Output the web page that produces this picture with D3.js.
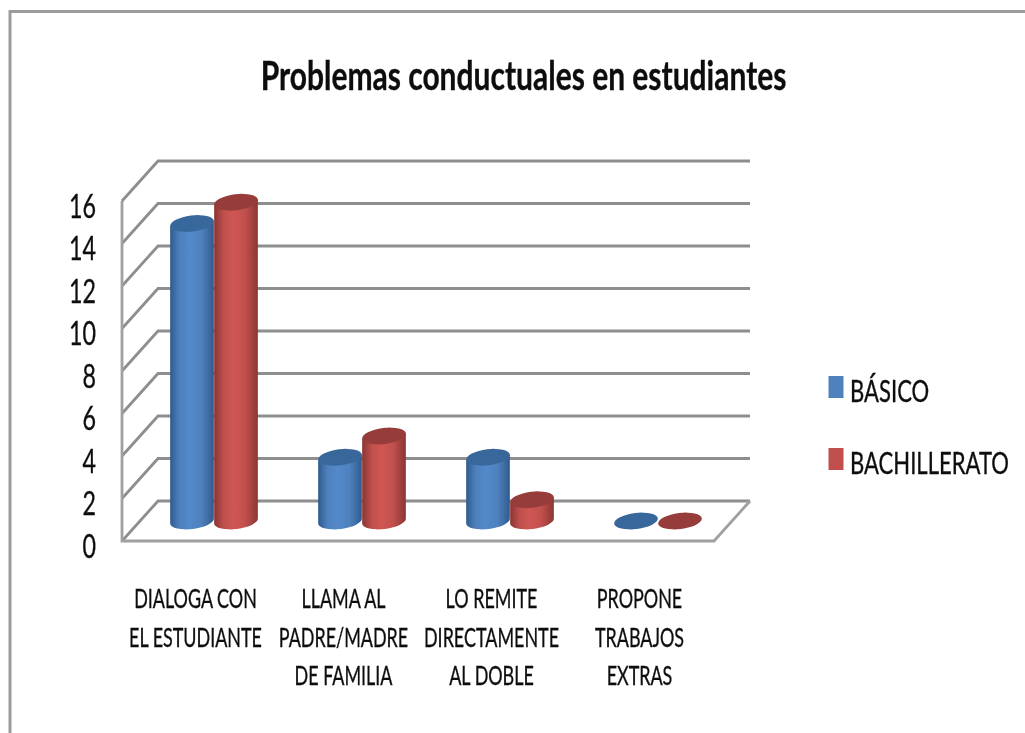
<!DOCTYPE html>
<html><head><meta charset="utf-8">
<script src="https://cdn.jsdelivr.net/npm/d3@7"></script>
<style>html,body{margin:0;padding:0;background:#fff;overflow:hidden}svg{display:block}text{font-family:Lato,"Open Sans",sans-serif;fill:#111;stroke:#111;stroke-width:.35px}</style>
</head><body><svg id="c" width="1025" height="733"></svg>
<script>
const titleText = "Problemas conductuales en estudiantes";
const categories = ["DIALOGA CON","LLAMA AL","LO REMITE","PROPONE"];
const categoryLines = [
  ["DIALOGA CON","EL ESTUDIANTE"],
  ["LLAMA AL","PADRE/MADRE","DE FAMILIA"],
  ["LO REMITE","DIRECTAMENTE","AL DOBLE"],
  ["PROPONE","TRABAJOS","EXTRAS"]
];
const seriesNames = ["BÁSICO","BACHILLERATO"];
const basico = [14,3,3,0];
const bachillerato = [15,4,1,0];
const tickValues = [0,2,4,6,8,10,12,14,16];

const W=1025,H=733;
const svg=d3.select("#c");
const defs=svg.append("defs");
const blur=defs.append("filter").attr("id","soft").attr("x","-5%").attr("y","-5%").attr("width","110%").attr("height","110%");
blur.append("feGaussianBlur").attr("stdDeviation",0.7);
const colors=[{main:"#4f81bd",dark:"#2f5b8e",top:"#39679b",mid:"#5289ca"},{main:"#c0504d",dark:"#8a3533",top:"#963d3a",mid:"#cf5653"}];
colors.forEach((c,i)=>{
  const g=defs.append("linearGradient").attr("id","cyl"+i).attr("x1",0).attr("x2",1).attr("y1",0).attr("y2",0);
  [[0,c.dark],[.22,c.main],[.45,c.mid],[.72,c.main],[1,c.dark]].forEach(s=>g.append("stop").attr("offset",s[0]).attr("stop-color",s[1]));
});
const root=svg.append("g").attr("filter","url(#soft)");

// frame
const frame=root.append("g").attr("stroke","#9c9c9c").attr("stroke-width",3).attr("fill","none");
frame.append("path").attr("d",`M10,${H}V11.5H${W}`);

// plot geometry
const front={l:122,r:714,b:541,t:201}, depth={x:36,y:-40};
const x=d3.scaleBand().domain(categories).range([front.l,front.r]);
const xSeries=d3.scaleBand().domain(seriesNames).range([-44,44]);
const y=d3.scaleLinear().domain([0,16]).range([front.b,front.t]);

// walls / grid
const grid=root.append("g").attr("fill","none").attr("stroke","#8e8e8e").attr("stroke-width",2.8);
tickValues.forEach(v=>{
  grid.append("path").attr("d",`M${front.l},${y(v)}L${front.l+depth.x},${y(v)+depth.y}H${front.r+depth.x}`);
});
grid.append("path").attr("d",`M${front.l},${y(16)}V${y(0)}H${front.r}L${front.r+depth.x},${y(0)+depth.y}`).attr("stroke","#a0a0a0");

// cylinders
const rx=22, ry=8, tilt=-7;
const unit=y(0)-y(1);
function cylinder(cx,v,i){
  const base=y(0)+depth.y/2, top=base-v*unit;
  const g=root.append("g");
  const c=colors[i];
  if(v>0){
    const dx=rx*Math.cos(tilt*Math.PI/180), dy=rx*Math.sin(tilt*Math.PI/180);
    g.append("path")
      .attr("d",`M${cx-dx},${top-dy}L${cx-dx},${base-dy}A${rx},${ry} ${tilt} 0 0 ${cx+dx},${base+dy}L${cx+dx},${top+dy}Z`)
      .attr("fill",`url(#cyl${i})`);
  }
  g.append("ellipse").attr("cx",cx).attr("cy",top).attr("rx",rx).attr("ry",ry)
    .attr("transform",`rotate(${tilt} ${cx} ${top})`).attr("fill",c.top);
}
categories.forEach((cat,j)=>{
  const cx=x(cat)+x.bandwidth()/2+depth.x/2;
  [basico,bachillerato].forEach((s,i)=>{
    cylinder(cx+xSeries(seriesNames[i])+xSeries.bandwidth()/2,s[j],i);
  });
});

// text fitting: condensed look by horizontal scaling
function place(sel,px,py,sx,anchor){
  sel.attr("text-anchor",anchor).attr("transform",`translate(${px},${py}) scale(${sx},1)`);
}
function fit(sample,size,weight,target){
  const t=root.append("text").attr("font-size",size).attr("font-weight",weight).text(sample);
  const w=t.node().getComputedTextLength(); t.remove();
  return target/w;
}
// title
const tsx=fit(titleText,41,700,526);
place(root.append("text").attr("font-size",41).attr("font-weight",700).text(titleText),523.5,90,tsx,"middle");

// value axis labels
const nsx=fit("16",33,400,27);
const axis=d3.axisLeft(y).tickValues(tickValues).tickSize(0).tickPadding(0);
const ag=root.append("g").attr("transform","translate(96,0)").call(axis);
ag.select(".domain").remove();
ag.selectAll("line").remove();
ag.attr("font-family",null).attr("font-size",null);
ag.selectAll("text").attr("x",null).attr("dy",null).attr("font-size",33)
  .attr("text-anchor","end")
  .attr("transform",`translate(0,16) scale(${nsx},1)`);

// category labels
const csx=fit("EL ESTUDIANTE",27,400,133);
const lineY=d3.scaleLinear().domain([0,2]).range([608,685]);
categories.forEach((cat,j)=>{
  categoryLines[j].forEach((l,k)=>{
    place(root.append("text").attr("font-size",27).text(l),x(cat)+x.bandwidth()/2-0.5,lineY(k),csx,"middle");
  });
});

// legend
const lsx=fit("BACHILLERATO",30,400,159);
const legY=d3.scaleBand().domain(seriesNames).range([351,495]);
seriesNames.forEach((n,i)=>{
  const cy=legY(n)+legY.bandwidth()/2;
  root.append("rect").attr("x",828.5).attr("y",cy-11).attr("width",15).attr("height",22).attr("fill",colors[i].main);
  place(root.append("text").attr("font-size",30).text(n),850,cy+15,lsx,"start");
});
</script></body></html>
